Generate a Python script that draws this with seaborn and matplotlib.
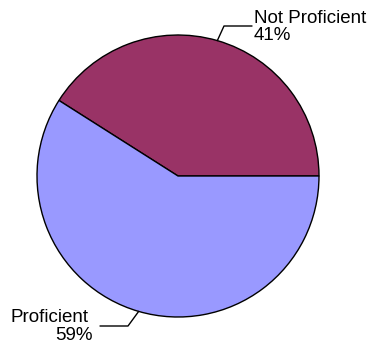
import numpy as np
import matplotlib
matplotlib.use("Agg")
import matplotlib.pyplot as plt
import seaborn as sns

categories = ["Not Proficient", "Proficient"]
values = [41, 59]
colors = ["#993366", "#9999FF"]

sns.set_theme(style="white")
plt.rcParams['font.family'] = ['Liberation Sans', 'DejaVu Sans']

W, H = 375, 345
fig = plt.figure(figsize=(W / 100, H / 100), dpi=100)
ax = fig.add_axes([0, 0, 1, 1])
cx, cy, R = 178, 176, 141  # pixel centre and radius

wedges, _ = ax.pie(values, colors=colors, startangle=0, counterclock=True,
                   radius=1, wedgeprops=dict(edgecolor='black', linewidth=1.0))
ax.set_aspect('auto')
ax.set_xlim(-cx / R, (W - cx) / R)
ax.set_ylim((cy - H) / R, cy / R)
ax.axis('off')

def px(x, y):
    return (x - cx) / R, (cy - y) / R

fs = 13.5
for i, w in enumerate(wedges):
    mid = np.deg2rad((w.theta1 + w.theta2) / 2)
    sx, sy = np.cos(mid), np.sin(mid)
    if i == 0:
        ex, ey = px(224, 26)
        fx, fy = px(252, 26)
        ax.plot([sx, ex, fx], [sy, ey, fy], color='black', lw=1.0, clip_on=False)
        tx, ty1 = px(254, 23)
        _, ty2 = px(254, 40)
        ax.text(tx, ty1, categories[i], fontsize=fs, ha='left', va='baseline', color='black')
        ax.text(tx, ty2, f"{values[i]}%", fontsize=fs, ha='left', va='baseline', color='black')
    else:
        ex, ey = px(128, 326)
        fx, fy = px(100, 326)
        ax.plot([sx, ex, fx], [sy, ey, fy], color='black', lw=1.0, clip_on=False)
        tx, ty1 = px(10, 322)
        rx, ty2 = px(93, 340)
        ax.text(tx, ty1, categories[i], fontsize=fs, ha='left', va='baseline', color='black')
        ax.text(rx, ty2, f"{values[i]}%", fontsize=fs, ha='right', va='baseline', color='black')

fig.savefig("out.png", dpi=100)
